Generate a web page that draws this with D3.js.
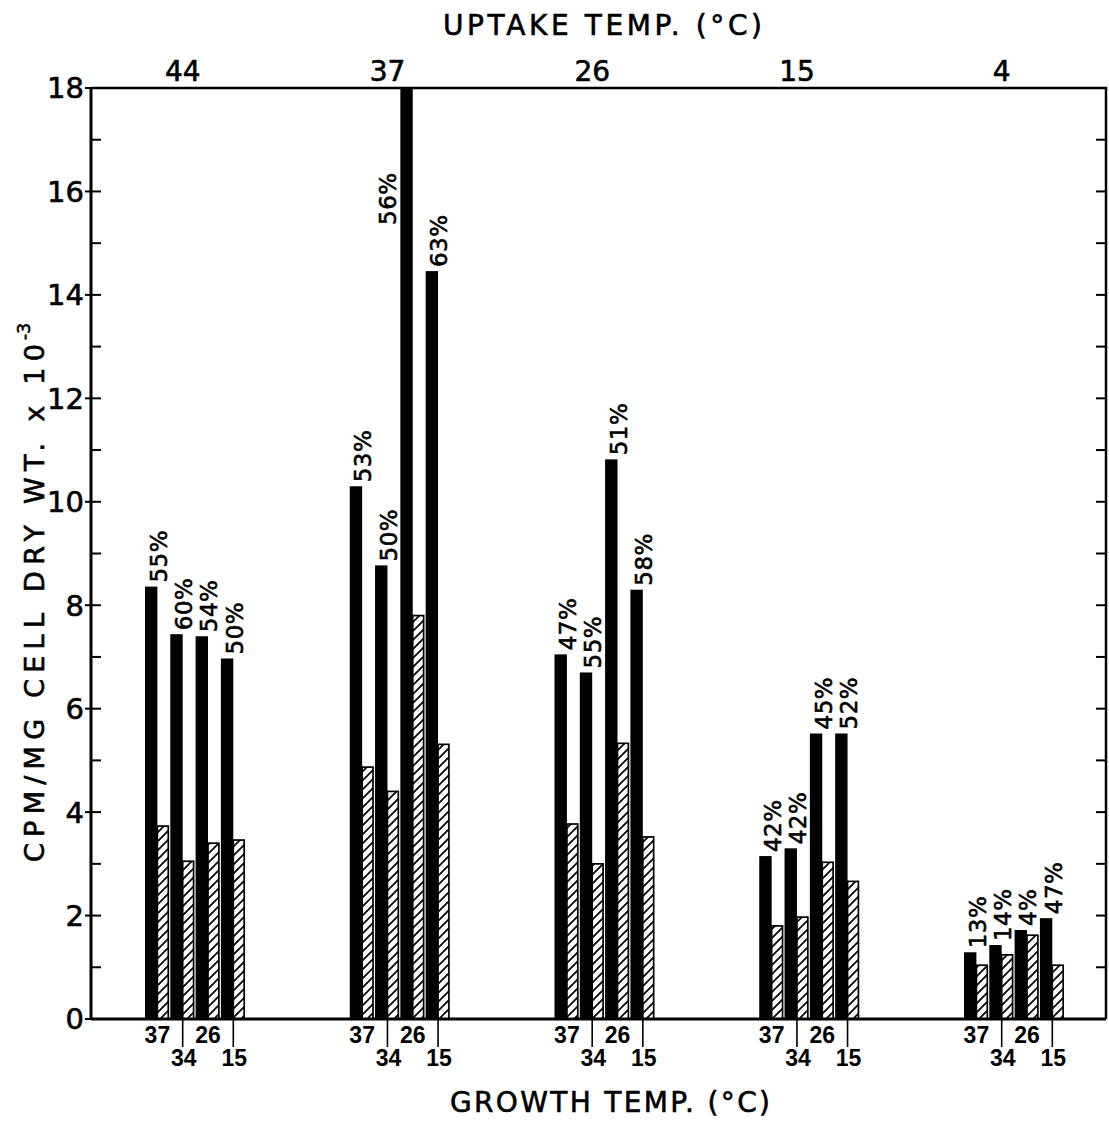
<!DOCTYPE html>
<html>
<head>
<meta charset="utf-8">
<script src="https://cdn.jsdelivr.net/npm/d3@7"></script>
<style>
  html, body { margin: 0; padding: 0; background: #fff; }
  svg { display: block; }
  text { font-family: "DejaVu Sans", "Liberation Sans", Arial, sans-serif; fill: #000; stroke: #000; stroke-width: 0.6px; }
</style>
</head>
<body>
<svg id="chart" width="1109" height="1130"></svg>
<script>
// ---- data ----
const uptakeTemps = ["44", "37", "26", "15", "4"];
const growthTemps = ["37", "34", "26", "15"];
// total uptake (solid bars), one array per uptake temperature
const solid44 = [8.36, 7.44, 7.40, 6.97];
const solid37 = [10.30, 8.77, 18.0, 14.46];
const solid26 = [7.05, 6.70, 10.82, 8.30];
const solid15 = [3.15, 3.30, 5.52, 5.52];
const solid4  = [1.29, 1.43, 1.72, 1.95];
// hatched bars
const hatch44 = [3.73, 3.05, 3.40, 3.46];
const hatch37 = [4.87, 4.40, 7.80, 5.31];
const hatch26 = [3.77, 3.00, 5.33, 3.52];
const hatch15 = [1.80, 1.97, 3.03, 2.66];
const hatch4  = [1.04, 1.24, 1.62, 1.04];
// percentage labels
const pct44 = ["55%", "60%", "54%", "50%"];
const pct37 = ["53%", "50%", "56%", "63%"];
const pct26 = ["47%", "55%", "51%", "58%"];
const pct15 = ["42%", "42%", "45%", "52%"];
const pct4  = ["13%", "14%", "4%", "47%"];
const yTicks = [0, 2, 4, 6, 8, 10, 12, 14, 16, 18];

const solidAll = [solid44, solid37, solid26, solid15, solid4];
const hatchAll = [hatch44, hatch37, hatch26, hatch15, hatch4];
const pctAll = [pct44, pct37, pct26, pct15, pct4];

const rows = [];
uptakeTemps.forEach((u, gi) => {
  growthTemps.forEach((g, bi) => {
    rows.push({ uptake: u, growth: g, gi, bi,
      solid: solidAll[gi][bi], hatch: hatchAll[gi][bi], pct: pctAll[gi][bi] });
  });
});

// ---- layout ----
const svg = d3.select("#chart");
const pL = 91, pR = 1106, pT = 88, pB = 1019;

const y = d3.scaleLinear().domain([0, 18]).range([pB, pT]);
const xGroup = d3.scalePoint().domain(uptakeTemps).range([145, 964]);
const xPair = d3.scaleBand().domain(growthTemps).range([0, 101.2]).padding(0);
const pairW = xPair.bandwidth();
const solidW = pairW * 0.49;
const hatchW = pairW * 0.43;

const pairX = d => xGroup(d.uptake) + xPair(d.growth);

// hatch pattern
const defs = svg.append("defs");
const pat = defs.append("pattern")
  .attr("id", "hatch").attr("patternUnits", "userSpaceOnUse")
  .attr("width", 9).attr("height", 9);
pat.append("rect").attr("width", 9).attr("height", 9).attr("fill", "#fff");
pat.append("path")
  .attr("d", "M-2,2 L2,-2 M0,9 L9,0 M7,11 L11,7")
  .attr("stroke", "#000").attr("stroke-width", 1.7);

// solid bars
svg.append("g").selectAll("rect").data(rows).join("rect")
  .attr("x", d => pairX(d))
  .attr("y", d => y(d.solid))
  .attr("width", solidW)
  .attr("height", d => y(0) - y(d.solid))
  .attr("fill", "#000");

// hatched bars
svg.append("g").selectAll("rect").data(rows).join("rect")
  .attr("x", d => pairX(d) + solidW)
  .attr("y", d => y(d.hatch))
  .attr("width", hatchW)
  .attr("height", d => y(0) - y(d.hatch))
  .attr("fill", "url(#hatch)")
  .attr("stroke", "#000").attr("stroke-width", 1.7);

// percentage labels
svg.append("g").selectAll("text").data(rows).join("text")
  .attr("transform", d => {
    if (d.solid >= 18) {
      return `translate(${pairX(d) - 13},${y(18) + 137}) rotate(-90)`;
    }
    return `translate(${pairX(d) + solidW + 1},${y(d.solid) - 4}) rotate(-90)`;
  })
  .attr("dy", "0.36em")
  .attr("text-anchor", "start")
  .style("font-size", "23px")
  .style("letter-spacing", "0.5px")
  .text(d => d.pct);

// frame: top and right
svg.append("path")
  .attr("d", `M${pL},${pT} H${pR} V${pB}`)
  .attr("fill", "none").attr("stroke", "#000").attr("stroke-width", 2.5);

// left axis
svg.append("line").attr("x1", pL).attr("x2", pL).attr("y1", pT - 1).attr("y2", pB + 1)
  .attr("stroke", "#000").attr("stroke-width", 3);
// bottom axis
svg.append("line").attr("x1", pL).attr("x2", pR).attr("y1", pB).attr("y2", pB)
  .attr("stroke", "#000").attr("stroke-width", 3);

// left ticks: major and minor
const allUnits = d3.range(0, 19);
svg.append("g").selectAll("line").data(allUnits).join("line")
  .attr("x1", v => yTicks.includes(v) ? pL - 6 : pL)
  .attr("x2", pL + 10)
  .attr("y1", v => y(v)).attr("y2", v => y(v))
  .attr("stroke", "#000").attr("stroke-width", 2);
// right ticks
svg.append("g").selectAll("line").data(allUnits.filter(v => v > 0 && v < 18)).join("line")
  .attr("x1", pR - 10).attr("x2", pR)
  .attr("y1", v => y(v)).attr("y2", v => y(v))
  .attr("stroke", "#000").attr("stroke-width", 2);

// y tick labels
svg.append("g").selectAll("text").data(yTicks).join("text")
  .attr("x", pL - 7).attr("y", v => y(v))
  .attr("dy", "0.36em").attr("text-anchor", "end")
  .style("font-size", "29px")
  .text(v => v);

// bottom growth-temp labels and ticks
svg.append("g").selectAll("line").data(rows.filter(d => d.bi % 2 === 1)).join("line")
  .attr("x1", d => pairX(d) + solidW).attr("x2", d => pairX(d) + solidW)
  .attr("y1", pB).attr("y2", pB + 28)
  .attr("stroke", "#000").attr("stroke-width", 1.6);
svg.append("g").selectAll("text").data(rows).join("text")
  .attr("x", d => pairX(d) + solidW + (d.bi % 2 === 1 ? 1 : 0))
  .attr("y", d => d.bi % 2 === 0 ? pB + 24 : pB + 47)
  .attr("text-anchor", "middle")
  .style("font-family", "'Liberation Sans', Arial, sans-serif")
  .style("font-size", "23px").style("font-weight", "bold")
  .style("stroke-width", "0px")
  .text(d => d.growth);

// top uptake-temp labels
svg.append("g").selectAll("text").data(uptakeTemps).join("text")
  .attr("x", u => xGroup(u) + xPair("34") + solidW)
  .attr("y", pT - 7)
  .attr("text-anchor", "middle")
  .style("font-size", "28px")
  .text(u => u);

// titles
svg.append("text")
  .attr("x", 443).attr("y", 35)
  .attr("textLength", 319).attr("lengthAdjust", "spacing")
  .style("font-size", "28px")
  .text("UPTAKE TEMP. (°C)");

svg.append("text")
  .attr("x", 450).attr("y", 1112)
  .attr("textLength", 320).attr("lengthAdjust", "spacing")
  .style("font-size", "28px")
  .text("GROWTH TEMP. (°C)");

const yt = svg.append("g").attr("transform", "translate(44,862) rotate(-90)");
yt.append("text")
  .attr("x", 0).attr("y", 0)
  .attr("textLength", 518).attr("lengthAdjust", "spacing")
  .style("font-size", "27px")
  .text("CPM/MG  CELL DRY WT. x 10");
yt.append("text")
  .attr("x", 522).attr("y", -14)
  .style("font-size", "17px")
  .text("-3");
</script>
</body>
</html>
